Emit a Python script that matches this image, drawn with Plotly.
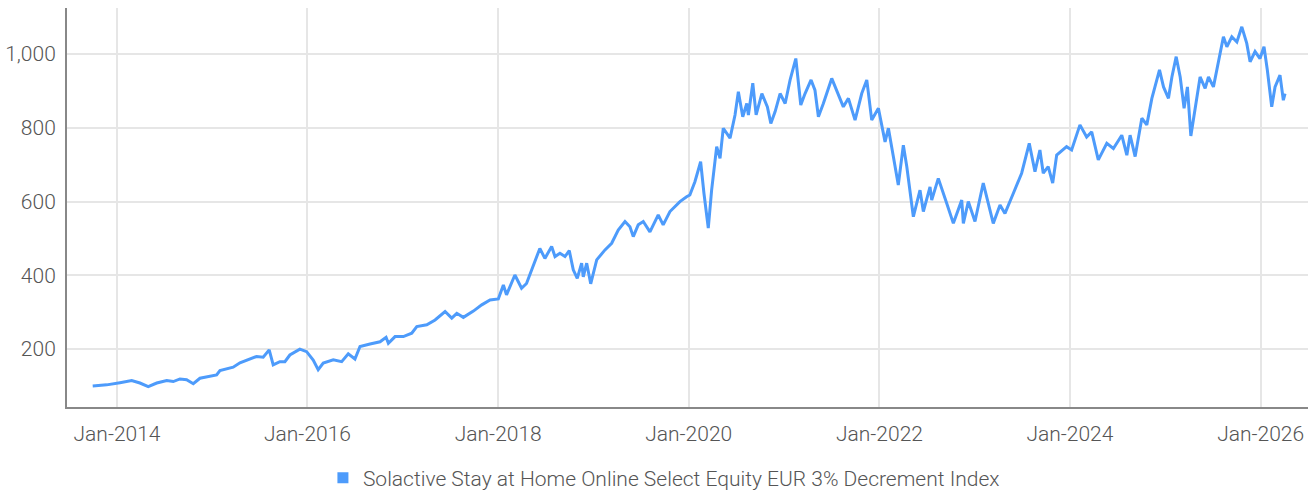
import plotly.graph_objects as go
import pandas as pd

series_name = "Solactive Stay at Home Online Select Equity EUR 3% Decrement Index"

# decimal years
years = [
    2013.745, 2013.892, 2014.031, 2014.154, 2014.241, 2014.328, 2014.417, 2014.522, 2014.591, 2014.661,
    2014.731, 2014.801, 2014.871, 2014.958, 2015.046, 2015.081, 2015.220, 2015.291, 2015.396, 2015.466,
    2015.535, 2015.598, 2015.640, 2015.710, 2015.763, 2015.815, 2015.920, 2015.991, 2016.060, 2016.112,
    2016.165, 2016.270, 2016.358, 2016.427, 2016.497, 2016.550, 2016.655, 2016.760, 2016.823, 2016.847,
    2016.917, 2017.004, 2017.092, 2017.145, 2017.250, 2017.337, 2017.442, 2017.512, 2017.565, 2017.634,
    2017.739, 2017.827, 2017.914, 2018.001, 2018.054, 2018.087, 2018.175, 2018.245, 2018.297, 2018.367,
    2018.437, 2018.490, 2018.561, 2018.596, 2018.648, 2018.701, 2018.746, 2018.788, 2018.830, 2018.876,
    2018.893, 2018.929, 2018.971, 2019.034, 2019.121, 2019.191, 2019.260, 2019.331, 2019.383, 2019.418,
    2019.470, 2019.523, 2019.593, 2019.680, 2019.732, 2019.803, 2019.908, 2019.978, 2020.012, 2020.065,
    2020.100, 2020.125, 2020.160, 2020.205, 2020.240, 2020.293, 2020.328, 2020.362, 2020.433, 2020.485,
    2020.520, 2020.566, 2020.608, 2020.625, 2020.671, 2020.706, 2020.766, 2020.824, 2020.860, 2020.905,
    2020.957, 2021.010, 2021.062, 2021.122, 2021.174, 2021.219, 2021.282, 2021.323, 2021.359, 2021.411,
    2021.499, 2021.552, 2021.621, 2021.674, 2021.744, 2021.814, 2021.867, 2021.919, 2021.989, 2022.059,
    2022.094, 2022.146, 2022.198, 2022.251, 2022.287, 2022.356, 2022.426, 2022.461, 2022.531, 2022.549,
    2022.618, 2022.707, 2022.776, 2022.864, 2022.881, 2022.933, 2023.003, 2023.090, 2023.195, 2023.266,
    2023.318, 2023.405, 2023.493, 2023.573, 2023.633, 2023.685, 2023.720, 2023.772, 2023.819, 2023.861,
    2023.965, 2024.018, 2024.105, 2024.175, 2024.228, 2024.297, 2024.386, 2024.455, 2024.543, 2024.596,
    2024.630, 2024.683, 2024.753, 2024.805, 2024.858, 2024.938, 2024.980, 2025.032, 2025.068, 2025.113,
    2025.155, 2025.196, 2025.231, 2025.267, 2025.312, 2025.364, 2025.417, 2025.452, 2025.504, 2025.557,
    2025.609, 2025.645, 2025.697, 2025.750, 2025.802, 2025.854, 2025.889, 2025.941, 2025.993, 2026.035,
    2026.070, 2026.116, 2026.151, 2026.203, 2026.238, 2026.256,
]

values = [
    100, 103, 109, 115, 108, 98, 108, 115, 112, 119,
    117, 106, 121, 125, 130, 142, 151, 163, 173, 180,
    178, 198, 157, 166, 166, 184, 200, 193, 170, 144,
    162, 171, 166, 187, 173, 207, 214, 220, 232, 216,
    234, 234, 243, 261, 266, 279, 302, 284, 297, 286,
    303, 320, 333, 336, 374, 347, 401, 365, 378, 428,
    473, 446, 478, 451, 460, 451, 467, 415, 392, 433,
    396, 433, 377, 442, 469, 487, 523, 546, 532, 505,
    537, 546, 518, 564, 537, 573, 600, 613, 618, 654,
    686, 708, 622, 528, 631, 749, 717, 799, 772, 835,
    898, 830, 866, 835, 921, 835, 893, 857, 812, 844,
    893, 866, 930, 988, 862, 893, 930, 902, 830, 866,
    934, 902, 857, 880, 821, 893, 930, 821, 853, 762,
    799, 722, 645, 753, 695, 559, 631, 573, 640, 604,
    663, 595, 541, 604, 541, 600, 546, 650, 541, 591,
    568, 622, 677, 758, 681, 740, 677, 695, 650, 726,
    749, 740, 808, 775, 789, 713, 758, 744, 780, 726,
    780, 722, 826, 808, 880, 957, 911, 880, 938, 993,
    938, 853, 911, 778, 857, 938, 907, 938, 911, 984,
    1047, 1020, 1047, 1033, 1074, 1029, 979, 1007, 988, 1020,
    957, 857, 911, 943, 875, 893,
]

y_ticks = [200, 400, 600, 800, 1000]
y_tick_labels = ["200", "400", "600", "800", "1,000"]
x_tick_years = [2014, 2016, 2018, 2020, 2022, 2024, 2026]


def to_date(y):
    yr = int(y)
    start = pd.Timestamp(year=yr, month=1, day=1)
    days = (pd.Timestamp(year=yr + 1, month=1, day=1) - start).days
    return start + pd.Timedelta(days=(y - yr) * days)


dates = [to_date(y) for y in years]
x_tick_vals = [pd.Timestamp(year=y, month=1, day=1) for y in x_tick_years]
x_tick_text = [d.strftime("%b-%Y") for d in x_tick_vals]

color = "#4d9bfb"
font_family = "Roboto, sans-serif"
tick_font = dict(family=font_family, size=21, color="#555555", weight=300)

fig = go.Figure()
fig.add_trace(go.Scatter(x=dates, y=values, mode="lines",
                         line=dict(color=color, width=3),
                         showlegend=False, name=series_name))
fig.add_trace(go.Scatter(x=[None], y=[None], mode="markers",
                         marker=dict(symbol="square", size=11, color=color),
                         name=series_name, showlegend=True))

fig.update_layout(
    width=1314, height=493,
    margin=dict(l=67, r=6, t=8, b=86, autoexpand=False),
    plot_bgcolor="white", paper_bgcolor="white",
    font=tick_font,
    legend=dict(orientation="h", x=0.481, xanchor="center", y=-0.178, yanchor="middle",
                font=tick_font, itemwidth=30, tracegroupgap=0),
    xaxis=dict(
        range=[to_date(2013.475), to_date(2026.497)],
        tickvals=x_tick_vals, ticktext=x_tick_text,
        showgrid=True, gridcolor="#e6e6e6", gridwidth=2,
        showline=True, linecolor="#888888", linewidth=2,
        ticks="", zeroline=False, ticklabelstandoff=7,
        tickfont=tick_font, automargin=False,
    ),
    yaxis=dict(
        range=[43, 1125],
        tickvals=y_ticks, ticktext=y_tick_labels,
        showgrid=True, gridcolor="#e6e6e6", gridwidth=2,
        showline=True, linecolor="#888888", linewidth=2,
        ticks="", zeroline=False, ticklabelstandoff=5,
        tickfont=tick_font, automargin=False,
    ),
)

fig.write_html("out.html")
